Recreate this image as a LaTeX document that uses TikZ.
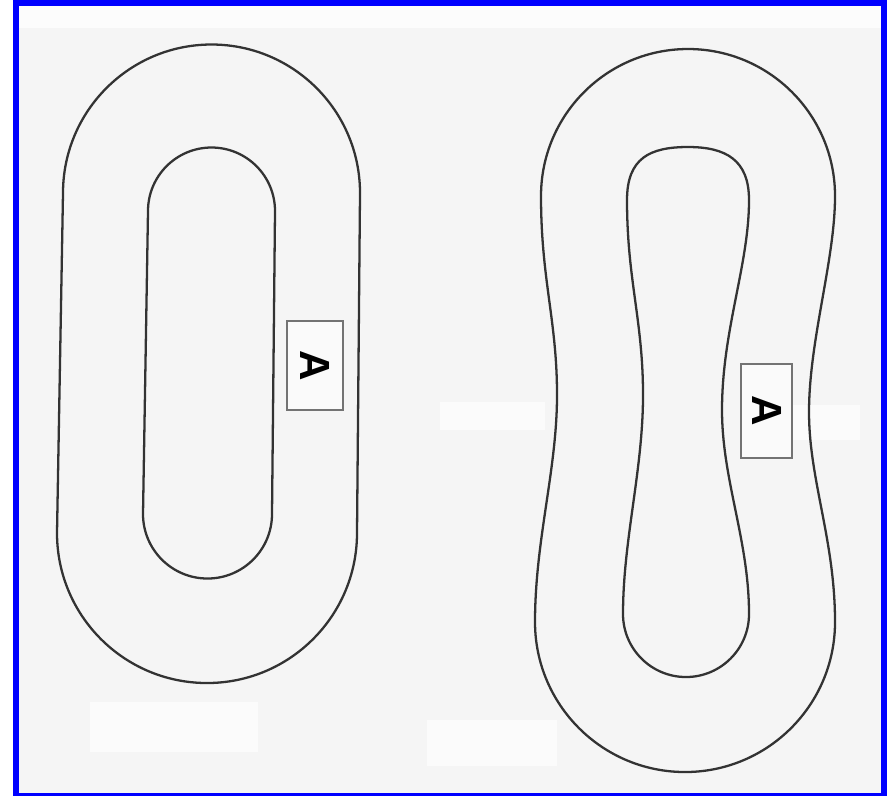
\documentclass[tikz,border=0pt]{standalone}
\usepackage{fontspec}
\setmainfont{Liberation Sans}
\usepackage{tikz}

\begin{document}
\begin{tikzpicture}[x=0.01cm, y=-0.01cm,
    contour/.style={draw=black!80, line width=0.65pt},
    markbox/.style={rectangle, draw=black!55, line width=0.6pt, fill=black!2, rotate=-90, inner sep=0pt, font=\fontsize{12}{14}\selectfont\bfseries},
    patch/.style={fill=black!1.5, draw=none}]

    % frame and paper
    \useasboundingbox (0,0) rectangle (892,796);
    \fill[white] (0,0) rectangle (892,796);
    \fill[blue] (13,0) rectangle (887,796);
    \fill[black!4] (19,6) rectangle (881,793);
    \fill[black!1] (19,6) rectangle (881,28);
    \fill[patch] (90,702) rectangle (258,752);
    \fill[patch] (427,720) rectangle (557,766);
    \fill[patch] (440,402) rectangle (545,430);
    \fill[patch] (792,405) rectangle (860,440);

    % left track
    \draw[contour] (360,193) arc[start angle=0, end angle=-180, radius=148.5]
        -- (57,533) arc[start angle=180, end angle=0, radius=150] -- cycle;
    \draw[contour] (275,211) arc[start angle=0, end angle=-180, radius=63.5]
        -- (143,514) arc[start angle=180, end angle=0, radius=64.5] -- cycle;

    % right track
    \draw[contour] (835,196) arc[start angle=0, end angle=-180, radius=147]
        .. controls (541,280) and (557,320) .. (557,395)
        .. controls (557,470) and (535,540) .. (535,622)
        arc[start angle=180, end angle=0, radius=150]
        .. controls (835,540) and (809,480) .. (809,412)
        .. controls (809,340) and (835,260) .. cycle;
    \draw[contour] (749,200) .. controls (749,160) and (726,147) .. (688,147)
        .. controls (650,147) and (627,158) .. (627,200)
        .. controls (627,280) and (643,320) .. (643,395)
        .. controls (643,470) and (623,540) .. (623,614)
        arc[start angle=180, end angle=0, radius=63]
        .. controls (749,540) and (722,480) .. (722,410)
        .. controls (722,330) and (749,265) .. cycle;

    % marks
    \node[markbox, minimum width=0.89cm, minimum height=0.56cm] (markL) at (315,365.5) {A};
    \node[markbox, minimum width=0.94cm, minimum height=0.51cm] (markR) at (766.5,411) {A};
\end{tikzpicture}
\end{document}
